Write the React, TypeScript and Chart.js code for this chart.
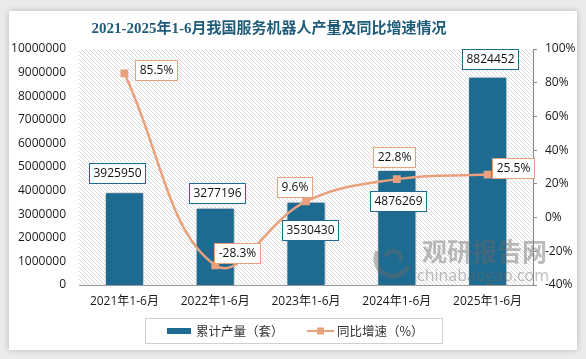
import React, { useEffect, useRef } from "react";
import { Chart, registerables } from "chart.js";

Chart.register(...registerables);

const TITLE = "2021-2025年1-6月我国服务机器人产量及同比增速情况";
const categories = ["2021年1-6月", "2022年1-6月", "2023年1-6月", "2024年1-6月", "2025年1-6月"];
const output = [3925950, 3277196, 3530430, 4876269, 8824452];
const growth = [85.5, -28.3, 9.6, 22.8, 25.5];
const barLegend = "累计产量（套）";
const lineLegend = "同比增速（%）";

const BAR_COLOR = "#1d6b90";
const LINE_COLOR = "#e9a07c";
const FONT = '"Open Sans", "Noto Sans CJK SC", sans-serif';
const CJK = '"Noto Sans CJK SC", "Open Sans", sans-serif';

function drawBox(ctx: CanvasRenderingContext2D, text: string, cx: number, cy: number, border: string) {
  ctx.save();
  ctx.font = `12px ${FONT}`;
  const w = Math.round(ctx.measureText(text).width + 8);
  const h = 20;
  const x = Math.round(cx - w / 2) + 0.5;
  const y = Math.round(cy - h / 2) + 0.5;
  ctx.fillStyle = "#ffffff";
  ctx.fillRect(x, y, w, h);
  ctx.strokeStyle = border;
  ctx.lineWidth = 1;
  ctx.strokeRect(x, y, w, h);
  ctx.fillStyle = "#111111";
  ctx.textAlign = "center";
  ctx.textBaseline = "middle";
  ctx.fillText(text, x + w / 2, y + h / 2 + 0.5);
  ctx.restore();
}

const decorPlugin = {
  id: "decor",
  beforeDatasetsDraw(chart: any) {
    const { ctx, chartArea } = chart;
    const pc = document.createElement("canvas");
    pc.width = 4;
    pc.height = 4;
    const p = pc.getContext("2d")!;
    p.fillStyle = "#dadada";
    for (let i = 0; i < 4; i++) p.fillRect(i, i, 1, 1);
    const pattern = ctx.createPattern(pc, "repeat");
    ctx.save();
    ctx.fillStyle = pattern;
    ctx.fillRect(chartArea.left, chartArea.top, chartArea.right - chartArea.left, chartArea.bottom - chartArea.top);
    ctx.restore();
  },
  beforeDatasetDraw(chart: any, args: any) {
    const ctx = chart.ctx;
    ctx.save();
    if (args.index === 0) {
      ctx.shadowColor = "rgba(0,0,0,0.35)";
      ctx.shadowBlur = 4;
      ctx.shadowOffsetX = 1;
      ctx.shadowOffsetY = 0;
    }
  },
  afterDatasetDraw(chart: any) {
    chart.ctx.restore();
  },
  afterDraw(chart: any, _args: any, opts: any) {
    const { ctx } = chart;
    // title
    ctx.save();
    ctx.font = `bold 15px "Liberation Serif", "Noto Sans CJK SC", serif`;
    ctx.fillStyle = "#1f5c7a";
    ctx.textAlign = "center";
    ctx.textBaseline = "middle";
    ctx.fillText(TITLE, 269, 29);
    ctx.restore();

    // watermark
    ctx.save();
    ctx.globalAlpha = 0.45;
    ctx.fillStyle = "#6a6a6a";
    ctx.strokeStyle = "#6a6a6a";
    ctx.font = `bold 25px ${CJK}`;
    ctx.textBaseline = "alphabetic";
    ctx.fillText("观研报告网", 422, 261);
    ctx.font = `16px ${FONT}`;
    ctx.fillText("chinabaogao.com", 417, 281);
    ctx.lineWidth = 5;
    ctx.beginPath();
    ctx.arc(393, 259, 17, Math.PI * 0.15, Math.PI * 1.15);
    ctx.stroke();
    ctx.lineWidth = 4;
    ctx.beginPath();
    ctx.arc(393, 259, 8, Math.PI * 1.1, Math.PI * 2.1);
    ctx.stroke();
    ctx.restore();

    // data labels
    const barMeta = chart.getDatasetMeta(0);
    const lineMeta = chart.getDatasetMeta(1);
    barMeta.data.forEach((el: any, i: number) => {
      const [dx, dy] = opts.barOffsets[i];
      drawBox(ctx, String(output[i]), el.x + dx, el.y + dy, BAR_COLOR);
    });
    lineMeta.data.forEach((el: any, i: number) => {
      const [dx, dy] = opts.lineOffsets[i];
      drawBox(ctx, growth[i].toFixed(1) + "%", el.x + dx, el.y + dy, LINE_COLOR);
    });

    // legend
    ctx.save();
    ctx.strokeStyle = "#d0d0d0";
    ctx.lineWidth = 1;
    ctx.strokeRect(145.5, 318.5, 297, 25);
    ctx.fillStyle = BAR_COLOR;
    ctx.fillRect(167, 328, 24, 6);
    ctx.font = `12.5px ${CJK}`;
    ctx.fillStyle = "#333333";
    ctx.textBaseline = "middle";
    ctx.fillText(barLegend, 196, 331);
    ctx.strokeStyle = LINE_COLOR;
    ctx.lineWidth = 2;
    ctx.beginPath();
    ctx.moveTo(307, 331);
    ctx.lineTo(334, 331);
    ctx.stroke();
    ctx.fillStyle = LINE_COLOR;
    ctx.fillRect(317, 327.5, 7, 7);
    ctx.fillStyle = "#333333";
    ctx.fillText(lineLegend, 337, 331);
    ctx.restore();
  },
};

export default function App() {
  const ref = useRef<HTMLCanvasElement | null>(null);

  useEffect(() => {
    if (!ref.current) return;
    const chart = new Chart(ref.current, {
      type: "bar",
      data: {
        labels: categories,
        datasets: [
          {
            type: "bar",
            label: barLegend,
            data: output,
            yAxisID: "y",
            backgroundColor: BAR_COLOR,
            borderColor: "#ffffff",
            borderWidth: 1,
            categoryPercentage: 1,
            barPercentage: 0.43,
            order: 2,
          },
          {
            type: "line",
            label: lineLegend,
            data: growth,
            yAxisID: "y1",
            borderColor: LINE_COLOR,
            backgroundColor: LINE_COLOR,
            borderWidth: 2.5,
            tension: 0.4,
            pointStyle: "rect",
            pointRadius: 5.5,
            pointBorderWidth: 0,
            pointBackgroundColor: LINE_COLOR,
            order: 1,
          },
        ],
      } as any,
      options: {
        responsive: false,
        animation: false,
        layout: { padding: { top: 49, left: 0, right: 0, bottom: 0 } },
        plugins: {
          legend: { display: false },
          tooltip: { enabled: false },
          title: { display: false },
          decor: {
            barOffsets: [[-7, -19], [2, -15], [4, 28], [1, 31], [2, -17.5]],
            lineOffsets: [[32, -3.5], [22, -12], [-12, -14.5], [-3, -22.5], [25.5, -7]],
          },
        } as any,
        scales: {
          x: {
            grid: { display: false, drawTicks: false },
            border: { display: true, color: "#9a9a9a", width: 1 },
            ticks: { color: "#1a1a1a", font: { size: 12, family: FONT }, padding: 9, maxRotation: 0 },
            afterFit: (s: any) => { s.height = 74; },
          },
          y: {
            position: "left",
            min: 0,
            max: 10000000,
            grid: { display: false, drawTicks: false },
            border: { display: false },
            ticks: {
              stepSize: 1000000,
              color: "#1a1a1a",
              font: { size: 12, family: FONT },
              padding: 13,
              callback: (v: any) => String(v),
            },
            afterFit: (s: any) => { s.width = 79; },
          },
          y1: {
            position: "right",
            min: -40,
            max: 100,
            grid: { display: true, drawOnChartArea: false, drawTicks: true, tickLength: 4, color: "#8a8a8a" },
            border: { display: true, color: "#8a8a8a", width: 1 },
            ticks: {
              stepSize: 20,
              color: "#1a1a1a",
              font: { size: 12, family: FONT },
              padding: 8,
              callback: (v: any) => v + "%",
            },
            afterFit: (s: any) => { s.width = 53; },
          },
        },
      } as any,
      plugins: [decorPlugin],
    });
    return () => chart.destroy();
  }, []);

  return (
    <div style={{ position: "absolute", left: 0, top: 0, width: 586, height: 359, background: "#ebebeb", overflow: "hidden" }}>
      <div style={{ position: "absolute", left: 9, top: 11, width: 568, height: 339, background: "#ffffff", boxShadow: "0 0 6px rgba(0,0,0,0.22)" }} />
      <canvas ref={ref} width={586} height={359} style={{ position: "absolute", left: 0, top: 0, width: 586, height: 359 }} />
    </div>
  );
}
